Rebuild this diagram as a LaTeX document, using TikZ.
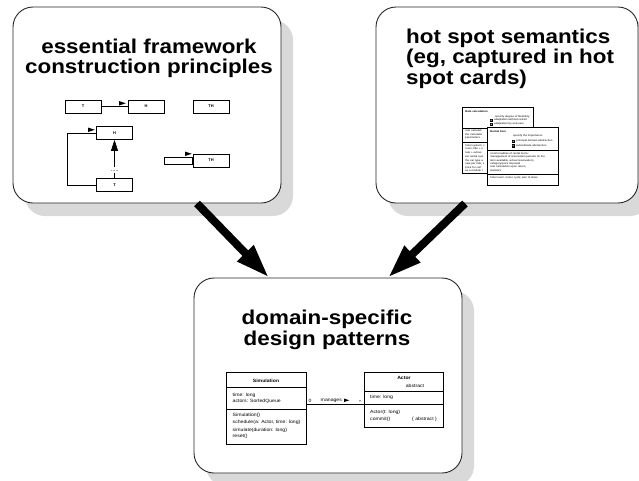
\documentclass[tikz,border=0pt]{standalone}
\usepackage{fontspec}
\setmainfont{Liberation Sans}
\usetikzlibrary{shadows,arrows.meta}
\tikzset{>=latex}
\tikzstyle{panel}=[draw=black!85,line width=0.9,fill=white,rounded corners=20,
  drop shadow={shadow xshift=12pt,shadow yshift=-13pt,fill=black!15,opacity=1}]
\tikzstyle{title}=[inner sep=0,font=\fontsize{20}{20.6}\selectfont\bfseries,xscale=1.12]
\tikzstyle{role}=[draw,line width=0.7,minimum width=36,minimum height=13,inner sep=0,
  font=\fontsize{4}{4}\selectfont\bfseries]
\tikzstyle{link}=[line width=0.7]
\tikzstyle{bigflow}=[line width=8,-{Triangle[length=34pt,width=21pt]}]
\tikzstyle{card}=[draw,line width=0.6,fill=white,inner sep=0,anchor=north west]
\tikzstyle{cardtxt}=[inner sep=0,anchor=west,font=\fontsize{2.6}{3.2}\selectfont,xscale=1.12]
\tikzstyle{umlbox}=[draw,line width=0.8,fill=white,inner sep=0,anchor=north west]
\tikzstyle{umltxt}=[inner sep=0,anchor=west,font=\fontsize{4.6}{5}\selectfont,xscale=1.12]
\tikzstyle{umlhead}=[umltxt,anchor=center,font=\fontsize{4.6}{5}\selectfont\bfseries]
% small filled half arrow sitting on a line: #1 left end, #2 size
\def\flag#1#2{\fill #1 ++(0,-1) -- ++(0,-#2) -- ++(1.5*#2,0.5*#2) -- cycle;}
\def\tickbox#1{\filldraw[line width=0.4] #1 rectangle ++(2.6,-2.6);
  \draw[white,line width=0.3] #1 ++(0.6,-1.3) -- ++(0.6,0.6) -- ++(0.9,-1.2);}

\begin{document}
\begin{tikzpicture}[x=1pt,y=-1pt]
  \useasboundingbox (0,0) rectangle (639,480);

  % PANELS
  \node[panel,minimum width=268,minimum height=196] (ess) at (147,105) {};
  \node[panel,minimum width=262,minimum height=196] (hot) at (507,105) {};
  \node[panel,minimum width=268,minimum height=195] (pat) at (328,375.5) {};

  \node[title,align=center,anchor=north] (esstitle) at (149,38.5)
    {essential framework\\construction principles};
  \node[title,align=left,anchor=north west] (hottitle) at (406,28.5)
    {hot spot semantics\\(eg, captured in hot\\spot cards)};
  \node[title,align=center,anchor=north] (pattitle) at (327,310)
    {domain-specific\\design patterns};

  % CONSTRUCTION PRINCIPLES
  \node[role] (t1) at (83,106.5) {T};
  \node[role] (h1) at (146,106.5) {H};
  \node[role] (th1) at (211,106.5) {TH};
  \node[role] (h2) at (114.5,133) {H};
  \node[role] (t2) at (114.5,185) {T};
  \node[role] (th2) at (211,160.5) {TH};
  \node[draw,line width=0.7,minimum width=28,minimum height=7,inner sep=0,
    anchor=east] (stub) at (th2.west) {};

  \draw[link] (t1) -- (h1);
  \flag{(119,106.5)}{4.5}
  \draw[link,-{Triangle[length=11pt,width=7pt]}] (t2) -- (h2);
  \fill[white] (112.5,167) rectangle (116.5,172.5);
  \draw[black!35,line width=0.6,dash pattern=on 1.6pt off 1.2pt]
    (110.5,170) -- (118.5,170);
  \draw[link] (t2.west) -- ++(-29,0) |- (h2.west);
  \flag{(88,133)}{4.5}
  \flag{(185,157)}{4.5}

  % HOT SPOT CARDS
  % back card: its left column is cut off by the front card
  \node[card,minimum width=71,minimum height=66] (rate) at (462,107) {};
  \draw[line width=0.5] (462,128) -- (533,128);
  \draw[line width=0.5] (462,142) -- (533,142);
  \node[cardtxt,font=\fontsize{2.6}{3.2}\selectfont\bfseries] at (465,112) {Rate calculation};
  \node[cardtxt] at (495,117) {specify degree of flexibility:};
  \tickbox{(490,121.4)}
  \node[cardtxt] at (494,120) {adaptation without restart};
  \tickbox{(490,125.4)}
  \node[cardtxt] at (494,124) {adaptation by end user};
  \node[cardtxt] at (465,131) {rate calculati};
  \node[cardtxt] at (465,134.5) {the calculatio};
  \node[cardtxt] at (465,138) {parameters};
  \node[cardtxt] at (465,145.5) {hotel system: c};
  \node[cardtxt] at (465,149) {room; title + n};
  \node[cardtxt] at (465,152.5) {rate + extras};
  \node[cardtxt] at (465,157) {car rental syst};
  \node[cardtxt] at (465,160.5) {the car type a};
  \node[cardtxt] at (465,164) {new per ride; s};
  \node[cardtxt] at (465,167.5) {price for cert};
  \node[cardtxt] at (465,171) {as a module t};

  \node[card,minimum width=71,minimum height=58] (item) at (487,127) {};
  \draw[line width=0.5] (487,150) -- (558,150);
  \draw[line width=0.5] (487,174) -- (558,174);
  \node[cardtxt,font=\fontsize{2.6}{3.2}\selectfont\bfseries] at (490,131.5) {Rental item};
  \node[cardtxt] at (513,136) {specify the importance:};
  \tickbox{(512,142.4)}
  \node[cardtxt] at (516,141) {principal domain abstraction};
  \tickbox{(512,146.9)}
  \node[cardtxt] at (516,145.5) {subordinate abstraction};
  \node[cardtxt] at (490,153.5) {commonalities of rental items:};
  \node[cardtxt] at (490,157) {management of reservation periods (in the};
  \node[cardtxt] at (490,160.4) {item available, actual reservation)};
  \node[cardtxt] at (490,163.7) {category/price imposed};
  \node[cardtxt] at (490,167) {rate calculation upon return,};
  \node[cardtxt] at (490,170.3) {statistics};
  \node[cardtxt] at (490,178) {hotel room, motor cycle, pair of skies};

  % DESIGN PATTERN
  \node[umlbox,minimum width=80,minimum height=72] (sim) at (226,372.3) {};
  \draw[line width=0.8] (226,387.7) -- (306,387.7);
  \draw[line width=0.8] (226,409.3) -- (306,409.3);
  \node[umlhead] at (266,380.7) {Simulation};
  \node[umltxt] at (232.5,395) {time: long};
  \node[umltxt] at (232.5,401.7) {actors: SortedQueue};
  \node[umltxt] at (232.5,415) {Simulation()};
  \node[umltxt] at (232.5,422.3) {schedule(a: Actor, time: long)};
  \node[umltxt] at (232.5,430) {simulate(duration: long)};
  \node[umltxt] at (232.5,436.7) {reset()};

  \node[umlbox,minimum width=79.3,minimum height=54.4] (act) at (364,372.3) {};
  \draw[line width=0.8] (364,391.7) -- (443.3,391.7);
  \draw[line width=0.8] (364,404) -- (443.3,404);
  \node[umlhead] at (404,378.3) {Actor};
  \node[umltxt,anchor=center] at (415,385.8) {abstract};
  \node[umltxt] at (370,397.5) {time: long};
  \node[umltxt] at (370,412.7) {Actor(t: long)};
  \node[umltxt] at (370,419.7) {commit()};
  \node[umltxt] at (412,419.7) {\{ abstract \}};

  \coordinate (simport) at (306,404);
  \draw[link] (simport) -- (simport -| act.west);
  \node[umltxt] at (308.5,400.5) {0};
  \node[umltxt] at (320.5,400.5) {manages};
  \flag{(344,403)}{3.5}
  \node[umltxt] at (359,401.8) {*};

  % FLOW ARROWS
  \draw[bigflow] ([xshift=50pt]ess.south) -- ([xshift=-59pt]pat.north);
  \draw[bigflow] ([xshift=-42pt]hot.south) -- ([xshift=60pt]pat.north);
\end{tikzpicture}
\end{document}
